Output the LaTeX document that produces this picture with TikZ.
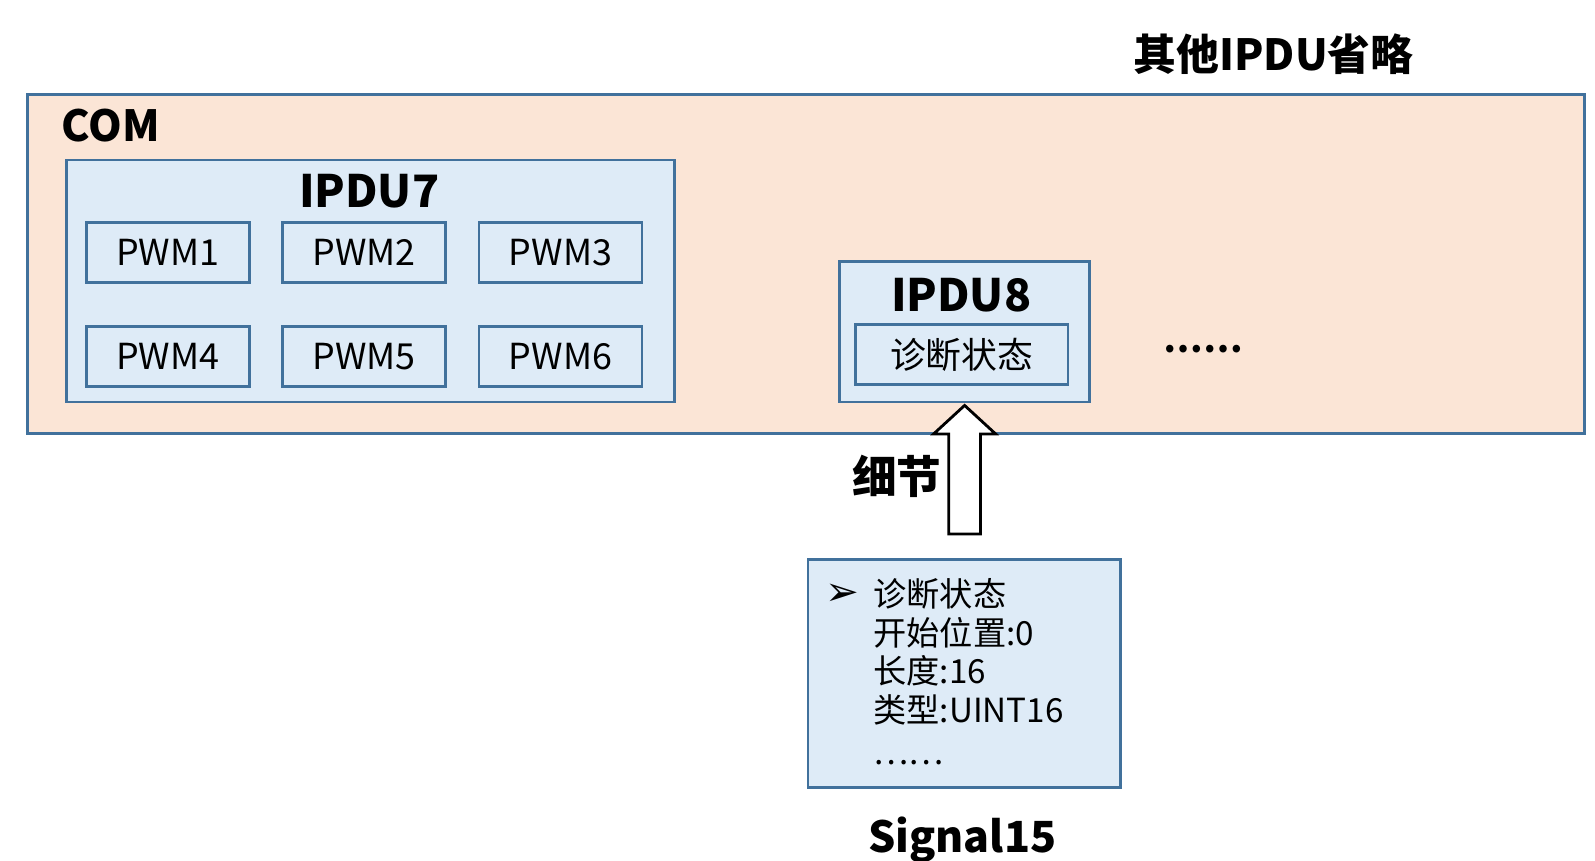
\documentclass[tikz,border=0pt]{standalone}
\usepackage{fontspec}
\setmainfont{Noto Sans CJK SC}
\newfontfamily\symfont{DejaVu Sans}
\usetikzlibrary{calc}
\definecolor{boxline}{HTML}{41719C}
\definecolor{peach}{HTML}{FBE5D6}
\definecolor{paleblue}{HTML}{DEEBF7}
\tikzstyle{combox}=[draw=boxline,line width=0.75pt,fill=peach,inner sep=0]
\tikzstyle{ipdubox}=[draw=boxline,line width=0.75pt,fill=paleblue,inner sep=0]
\tikzstyle{sigbox}=[ipdubox,minimum width=1.628cm,minimum height=0.60cm,font=\fontsize{10.2}{12}\selectfont]
\tikzstyle{title}=[inner sep=0,font=\bfseries\fontsize{12.7}{15}\selectfont]
\tikzstyle{plain}=[inner sep=0,font=\fontsize{9.45}{11}\selectfont]
\begin{document}
\begin{tikzpicture}
  \useasboundingbox (0,0) rectangle (15.95,-8.61);
  \def\hw{.31}  % arrow head
  \def\sw{.158} % arrow shaft
  \def\hh{.285} % arrow head height

  % COM
  \node[combox,anchor=north west,minimum width=15.57cm,minimum height=3.39cm] (com) at (0.26,-0.93) {};
  \node[title,anchor=west,font=\bfseries\fontsize{12.2}{14}\selectfont] (comlbl) at (0.61,-1.255) {COM};
  \node[title,font=\bfseries\fontsize{12.2}{14}\selectfont] (other) at (12.735,-0.539) {其他IPDU省略};

  % IPDU7
  \node[ipdubox,anchor=north west,minimum width=6.083cm,minimum height=2.421cm] (ipdu7) at (0.651,-1.587) {};
  \node[title] (ipdu7lbl) at (3.692,-1.912) {IPDU7};
  \foreach \i/\x/\y in {1/1.678/2.528,2/3.642/2.528,3/5.605/2.528,4/1.678/3.565,5/3.642/3.565,6/5.605/3.565}
    \node[sigbox] (pwm\i) at (\x,-\y) {PWM\i};

  % IPDU8
  \node[ipdubox,anchor=north west,minimum width=2.502cm,minimum height=1.404cm] (ipdu8) at (8.382,-2.604) {};
  \node[title] (ipdu8lbl) at (9.612,-2.955) {IPDU8};
  \node[sigbox,minimum width=2.126cm] (diag) at (9.618,-3.545) {诊断状态};
  \node[title,font=\bfseries\fontsize{10}{12}\selectfont] (more) at (12.03,-3.49) {……};

  % SIGNAL
  \node[ipdubox,anchor=north west,minimum width=3.123cm,minimum height=2.279cm] (sig) at (8.066,-5.584) {};
  \node[plain,anchor=west,font=\fontsize{11.5}{12}\selectfont] (bullet) at (8.245,-5.95) {\symfont ➢};
  \node[plain,anchor=north west,align=left] (sigtxt) at (8.728,-5.778)
    {诊断状态\\开始位置:0\\长度:16\\类型:UINT16\\[0.03cm]……};
  \node[title,font=\bfseries\fontsize{12.2}{14}\selectfont] (siglbl) at (9.623,-8.40) {Signal15};

  % ARROW
  \coordinate (tip) at ($(ipdu8.south)+(0,-0.02)$);
  \coordinate (foot) at ($(sig.north)+(0,0.244)$);
  \draw[line width=0.8pt,fill=white]
    (tip) -- ($(tip)+(\hw,-\hh)$) -- ($(tip)+(\sw,-\hh)$) -- (foot -| {$(tip)+(\sw,0)$}) --
    (foot -| {$(tip)+(-\sw,0)$}) -- ($(tip)+(-\sw,-\hh)$) -- ($(tip)+(-\hw,-\hh)$) -- cycle;
  \node[title,anchor=east] (detail) at (9.42,-4.76) {细节};
\end{tikzpicture}
\end{document}
